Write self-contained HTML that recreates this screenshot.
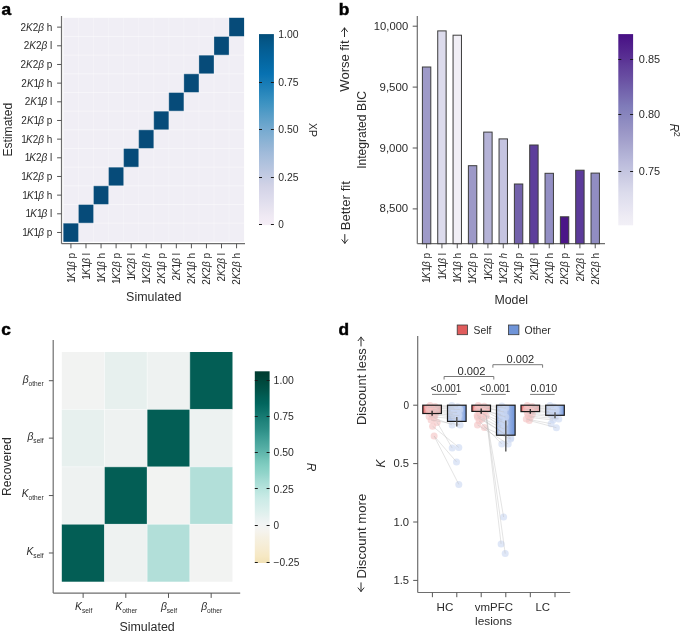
<!DOCTYPE html>
<html><head><meta charset="utf-8"><style>html,body{margin:0;padding:0;background:#fff;overflow:hidden;} svg{display:block;will-change:transform;} text{font-family:"Liberation Sans", sans-serif;}</style></head>
<body><svg width="685" height="634" viewBox="0 0 685 634" font-family='"Liberation Sans", sans-serif'><defs><linearGradient id="gPuBu" x1="0" y1="1" x2="0" y2="0"><stop offset="0.0000" stop-color="#f5eef6"/><stop offset="0.0417" stop-color="#f0eaf4"/><stop offset="0.0833" stop-color="#e8e4f0"/><stop offset="0.1250" stop-color="#e0deed"/><stop offset="0.1667" stop-color="#d9d8ea"/><stop offset="0.2083" stop-color="#d1d2e6"/><stop offset="0.2500" stop-color="#c5cce3"/><stop offset="0.2917" stop-color="#b9c6e0"/><stop offset="0.3333" stop-color="#adc1dd"/><stop offset="0.3750" stop-color="#a1bbda"/><stop offset="0.4167" stop-color="#93b5d6"/><stop offset="0.4583" stop-color="#84b0d3"/><stop offset="0.5000" stop-color="#76aad0"/><stop offset="0.5417" stop-color="#65a3cb"/><stop offset="0.5833" stop-color="#549cc7"/><stop offset="0.6250" stop-color="#4295c3"/><stop offset="0.6667" stop-color="#328dbf"/><stop offset="0.7083" stop-color="#2383ba"/><stop offset="0.7500" stop-color="#157ab5"/><stop offset="0.7917" stop-color="#0771b1"/><stop offset="0.8333" stop-color="#056ba7"/><stop offset="0.8750" stop-color="#04649e"/><stop offset="0.9167" stop-color="#045e94"/><stop offset="0.9583" stop-color="#045788"/><stop offset="1.0000" stop-color="#034d79"/></linearGradient><linearGradient id="gPur" x1="0" y1="1" x2="0" y2="0"><stop offset="0.0000" stop-color="#f2f0f7"/><stop offset="0.0417" stop-color="#eeecf4"/><stop offset="0.0833" stop-color="#e8e6f2"/><stop offset="0.1250" stop-color="#e2e1ef"/><stop offset="0.1667" stop-color="#dcdcec"/><stop offset="0.2083" stop-color="#d4d4e8"/><stop offset="0.2500" stop-color="#cbcbe3"/><stop offset="0.2917" stop-color="#c2c3df"/><stop offset="0.3333" stop-color="#babadb"/><stop offset="0.3750" stop-color="#b1b1d5"/><stop offset="0.4167" stop-color="#a9a7cf"/><stop offset="0.4583" stop-color="#a09dca"/><stop offset="0.5000" stop-color="#9894c5"/><stop offset="0.5417" stop-color="#8f8cc1"/><stop offset="0.5833" stop-color="#8784bd"/><stop offset="0.6250" stop-color="#7f7bb9"/><stop offset="0.6667" stop-color="#796eb2"/><stop offset="0.7083" stop-color="#7262ac"/><stop offset="0.7500" stop-color="#6c55a5"/><stop offset="0.7917" stop-color="#66499f"/><stop offset="0.8333" stop-color="#603e9a"/><stop offset="0.8750" stop-color="#593093"/><stop offset="0.9167" stop-color="#53258e"/><stop offset="0.9583" stop-color="#4d1a89"/><stop offset="1.0000" stop-color="#470f84"/></linearGradient><linearGradient id="gBr" x1="0" y1="1" x2="0" y2="0"><stop offset="0.0000" stop-color="#f1e1b5"/><stop offset="0.0333" stop-color="#f6e8c3"/><stop offset="0.0667" stop-color="#f6ebcf"/><stop offset="0.1000" stop-color="#f6eed9"/><stop offset="0.1333" stop-color="#f5f0e2"/><stop offset="0.1667" stop-color="#f5f3ee"/><stop offset="0.2000" stop-color="#f2f4f4"/><stop offset="0.2333" stop-color="#e9f2f1"/><stop offset="0.2667" stop-color="#def0ed"/><stop offset="0.3000" stop-color="#d5edea"/><stop offset="0.3333" stop-color="#ccebe7"/><stop offset="0.3667" stop-color="#bfe7e1"/><stop offset="0.4000" stop-color="#b1e1da"/><stop offset="0.4333" stop-color="#a3dbd3"/><stop offset="0.4667" stop-color="#92d4ca"/><stop offset="0.5000" stop-color="#84cfc3"/><stop offset="0.5333" stop-color="#76c6ba"/><stop offset="0.5667" stop-color="#64b9ae"/><stop offset="0.6000" stop-color="#55aea5"/><stop offset="0.6333" stop-color="#47a49b"/><stop offset="0.6667" stop-color="#389991"/><stop offset="0.7000" stop-color="#2b8d85"/><stop offset="0.7333" stop-color="#21847c"/><stop offset="0.7667" stop-color="#167a72"/><stop offset="0.8000" stop-color="#0a6f67"/><stop offset="0.8333" stop-color="#01655d"/><stop offset="0.8667" stop-color="#015d54"/><stop offset="0.9000" stop-color="#015349"/><stop offset="0.9333" stop-color="#004b40"/><stop offset="0.9667" stop-color="#004337"/><stop offset="1.0000" stop-color="#003c30"/></linearGradient><linearGradient id="gS" x1="0" y1="0" x2="1" y2="0"><stop offset="0" stop-color="#e04f4f"/><stop offset="0.1" stop-color="#e98f8f"/><stop offset="0.25" stop-color="#eda3a3"/><stop offset="1" stop-color="#eda4a4"/></linearGradient><linearGradient id="gO" x1="0" y1="0" x2="1" y2="0"><stop offset="0" stop-color="#b6c8ec"/><stop offset="0.7" stop-color="#b9cbed"/><stop offset="0.88" stop-color="#93afe3"/><stop offset="1" stop-color="#6a90d8"/></linearGradient><linearGradient id="gO2" x1="0" y1="0" x2="1" y2="0"><stop offset="0" stop-color="#8fabe2"/><stop offset="0.15" stop-color="#b3c6eb"/><stop offset="0.55" stop-color="#b5c7ec"/><stop offset="0.75" stop-color="#8eabe2"/><stop offset="1" stop-color="#6d93d8"/></linearGradient></defs><rect width="685" height="634" fill="#fff"/><text x="1.60" y="14.70" font-size="17.3" fill="#000" font-weight="bold" stroke="#000" stroke-width="0.5">a</text>
<rect x="63.40" y="17.80" width="180.70" height="224.00" fill="#f0eef5"/>
<rect x="229.04" y="17.80" width="15.06" height="18.67" fill="#064b79"/>
<rect x="213.98" y="36.47" width="15.06" height="18.67" fill="#064b79"/>
<rect x="198.92" y="55.13" width="15.06" height="18.67" fill="#064b79"/>
<rect x="183.87" y="73.80" width="15.06" height="18.67" fill="#064b79"/>
<rect x="168.81" y="92.47" width="15.06" height="18.67" fill="#064b79"/>
<rect x="153.75" y="111.13" width="15.06" height="18.67" fill="#064b79"/>
<rect x="138.69" y="129.80" width="15.06" height="18.67" fill="#064b79"/>
<rect x="123.63" y="148.47" width="15.06" height="18.67" fill="#064b79"/>
<rect x="108.57" y="167.13" width="15.06" height="18.67" fill="#064b79"/>
<rect x="93.52" y="185.80" width="15.06" height="18.67" fill="#064b79"/>
<rect x="78.46" y="204.47" width="15.06" height="18.67" fill="#064b79"/>
<rect x="63.40" y="223.13" width="15.06" height="18.67" fill="#064b79"/>
<line x1="63.40" y1="36.47" x2="244.10" y2="36.47" stroke="#ffffff" stroke-width="0.8" stroke-opacity="0.55"/>
<line x1="78.46" y1="17.80" x2="78.46" y2="241.80" stroke="#ffffff" stroke-width="0.6" stroke-opacity="0.45"/>
<line x1="63.40" y1="55.13" x2="244.10" y2="55.13" stroke="#ffffff" stroke-width="0.8" stroke-opacity="0.55"/>
<line x1="93.52" y1="17.80" x2="93.52" y2="241.80" stroke="#ffffff" stroke-width="0.6" stroke-opacity="0.45"/>
<line x1="63.40" y1="73.80" x2="244.10" y2="73.80" stroke="#ffffff" stroke-width="0.8" stroke-opacity="0.55"/>
<line x1="108.57" y1="17.80" x2="108.57" y2="241.80" stroke="#ffffff" stroke-width="0.6" stroke-opacity="0.45"/>
<line x1="63.40" y1="92.47" x2="244.10" y2="92.47" stroke="#ffffff" stroke-width="0.8" stroke-opacity="0.55"/>
<line x1="123.63" y1="17.80" x2="123.63" y2="241.80" stroke="#ffffff" stroke-width="0.6" stroke-opacity="0.45"/>
<line x1="63.40" y1="111.13" x2="244.10" y2="111.13" stroke="#ffffff" stroke-width="0.8" stroke-opacity="0.55"/>
<line x1="138.69" y1="17.80" x2="138.69" y2="241.80" stroke="#ffffff" stroke-width="0.6" stroke-opacity="0.45"/>
<line x1="63.40" y1="129.80" x2="244.10" y2="129.80" stroke="#ffffff" stroke-width="0.8" stroke-opacity="0.55"/>
<line x1="153.75" y1="17.80" x2="153.75" y2="241.80" stroke="#ffffff" stroke-width="0.6" stroke-opacity="0.45"/>
<line x1="63.40" y1="148.47" x2="244.10" y2="148.47" stroke="#ffffff" stroke-width="0.8" stroke-opacity="0.55"/>
<line x1="168.81" y1="17.80" x2="168.81" y2="241.80" stroke="#ffffff" stroke-width="0.6" stroke-opacity="0.45"/>
<line x1="63.40" y1="167.13" x2="244.10" y2="167.13" stroke="#ffffff" stroke-width="0.8" stroke-opacity="0.55"/>
<line x1="183.87" y1="17.80" x2="183.87" y2="241.80" stroke="#ffffff" stroke-width="0.6" stroke-opacity="0.45"/>
<line x1="63.40" y1="185.80" x2="244.10" y2="185.80" stroke="#ffffff" stroke-width="0.8" stroke-opacity="0.55"/>
<line x1="198.92" y1="17.80" x2="198.92" y2="241.80" stroke="#ffffff" stroke-width="0.6" stroke-opacity="0.45"/>
<line x1="63.40" y1="204.47" x2="244.10" y2="204.47" stroke="#ffffff" stroke-width="0.8" stroke-opacity="0.55"/>
<line x1="213.98" y1="17.80" x2="213.98" y2="241.80" stroke="#ffffff" stroke-width="0.6" stroke-opacity="0.45"/>
<line x1="63.40" y1="223.13" x2="244.10" y2="223.13" stroke="#ffffff" stroke-width="0.8" stroke-opacity="0.55"/>
<line x1="229.04" y1="17.80" x2="229.04" y2="241.80" stroke="#ffffff" stroke-width="0.6" stroke-opacity="0.45"/>
<line x1="61.50" y1="16.00" x2="61.50" y2="243.70" stroke="#6e6e6e" stroke-width="1.2"/>
<line x1="61.50" y1="243.70" x2="245.00" y2="243.70" stroke="#6e6e6e" stroke-width="1.2"/>
<line x1="57.10" y1="27.13" x2="61.50" y2="27.13" stroke="#555" stroke-width="1"/>
<text x="52.30" y="30.63" font-size="10" fill="#2b2b2b" text-anchor="end">2<tspan font-style="italic">K</tspan><tspan>2</tspan><tspan font-style="italic">β</tspan> h</text>
<line x1="57.10" y1="45.80" x2="61.50" y2="45.80" stroke="#555" stroke-width="1"/>
<text x="52.30" y="49.30" font-size="10" fill="#2b2b2b" text-anchor="end">2<tspan font-style="italic">K</tspan><tspan>2</tspan><tspan font-style="italic">β</tspan> l</text>
<line x1="57.10" y1="64.47" x2="61.50" y2="64.47" stroke="#555" stroke-width="1"/>
<text x="52.30" y="67.97" font-size="10" fill="#2b2b2b" text-anchor="end">2<tspan font-style="italic">K</tspan><tspan>2</tspan><tspan font-style="italic">β</tspan> p</text>
<line x1="57.10" y1="83.13" x2="61.50" y2="83.13" stroke="#555" stroke-width="1"/>
<text x="52.30" y="86.63" font-size="10" fill="#2b2b2b" text-anchor="end">2<tspan font-style="italic">K</tspan><tspan>1</tspan><tspan font-style="italic" dx="-0.9">β</tspan> h</text>
<line x1="57.10" y1="101.80" x2="61.50" y2="101.80" stroke="#555" stroke-width="1"/>
<text x="52.30" y="105.30" font-size="10" fill="#2b2b2b" text-anchor="end">2<tspan font-style="italic">K</tspan><tspan>1</tspan><tspan font-style="italic" dx="-0.9">β</tspan> l</text>
<line x1="57.10" y1="120.47" x2="61.50" y2="120.47" stroke="#555" stroke-width="1"/>
<text x="52.30" y="123.97" font-size="10" fill="#2b2b2b" text-anchor="end">2<tspan font-style="italic">K</tspan><tspan>1</tspan><tspan font-style="italic" dx="-0.9">β</tspan> p</text>
<line x1="57.10" y1="139.13" x2="61.50" y2="139.13" stroke="#555" stroke-width="1"/>
<text x="52.30" y="142.63" font-size="10" fill="#2b2b2b" text-anchor="end">1<tspan font-style="italic" dx="-0.9">K</tspan><tspan>2</tspan><tspan font-style="italic">β</tspan> h</text>
<line x1="57.10" y1="157.80" x2="61.50" y2="157.80" stroke="#555" stroke-width="1"/>
<text x="52.30" y="161.30" font-size="10" fill="#2b2b2b" text-anchor="end">1<tspan font-style="italic" dx="-0.9">K</tspan><tspan>2</tspan><tspan font-style="italic">β</tspan> l</text>
<line x1="57.10" y1="176.47" x2="61.50" y2="176.47" stroke="#555" stroke-width="1"/>
<text x="52.30" y="179.97" font-size="10" fill="#2b2b2b" text-anchor="end">1<tspan font-style="italic" dx="-0.9">K</tspan><tspan>2</tspan><tspan font-style="italic">β</tspan> p</text>
<line x1="57.10" y1="195.13" x2="61.50" y2="195.13" stroke="#555" stroke-width="1"/>
<text x="52.30" y="198.63" font-size="10" fill="#2b2b2b" text-anchor="end">1<tspan font-style="italic" dx="-0.9">K</tspan><tspan>1</tspan><tspan font-style="italic" dx="-0.9">β</tspan> h</text>
<line x1="57.10" y1="213.80" x2="61.50" y2="213.80" stroke="#555" stroke-width="1"/>
<text x="52.30" y="217.30" font-size="10" fill="#2b2b2b" text-anchor="end">1<tspan font-style="italic" dx="-0.9">K</tspan><tspan>1</tspan><tspan font-style="italic" dx="-0.9">β</tspan> l</text>
<line x1="57.10" y1="232.47" x2="61.50" y2="232.47" stroke="#555" stroke-width="1"/>
<text x="52.30" y="235.97" font-size="10" fill="#2b2b2b" text-anchor="end">1<tspan font-style="italic" dx="-0.9">K</tspan><tspan>1</tspan><tspan font-style="italic" dx="-0.9">β</tspan> p</text>
<line x1="70.93" y1="243.70" x2="70.93" y2="248.30" stroke="#555" stroke-width="1"/>
<text transform="translate(74.53,253.00) rotate(-90)" font-size="10" fill="#2b2b2b" text-anchor="end">1<tspan font-style="italic" dx="-0.9">K</tspan><tspan>1</tspan><tspan font-style="italic" dx="-0.9">β</tspan> p</text>
<line x1="85.99" y1="243.70" x2="85.99" y2="248.30" stroke="#555" stroke-width="1"/>
<text transform="translate(89.59,253.00) rotate(-90)" font-size="10" fill="#2b2b2b" text-anchor="end">1<tspan font-style="italic" dx="-0.9">K</tspan><tspan>1</tspan><tspan font-style="italic" dx="-0.9">β</tspan> l</text>
<line x1="101.05" y1="243.70" x2="101.05" y2="248.30" stroke="#555" stroke-width="1"/>
<text transform="translate(104.65,253.00) rotate(-90)" font-size="10" fill="#2b2b2b" text-anchor="end">1<tspan font-style="italic" dx="-0.9">K</tspan><tspan>1</tspan><tspan font-style="italic" dx="-0.9">β</tspan> h</text>
<line x1="116.10" y1="243.70" x2="116.10" y2="248.30" stroke="#555" stroke-width="1"/>
<text transform="translate(119.70,253.00) rotate(-90)" font-size="10" fill="#2b2b2b" text-anchor="end">1<tspan font-style="italic" dx="-0.9">K</tspan><tspan>2</tspan><tspan font-style="italic">β</tspan> p</text>
<line x1="131.16" y1="243.70" x2="131.16" y2="248.30" stroke="#555" stroke-width="1"/>
<text transform="translate(134.76,253.00) rotate(-90)" font-size="10" fill="#2b2b2b" text-anchor="end">1<tspan font-style="italic" dx="-0.9">K</tspan><tspan>2</tspan><tspan font-style="italic">β</tspan> l</text>
<line x1="146.22" y1="243.70" x2="146.22" y2="248.30" stroke="#555" stroke-width="1"/>
<text transform="translate(149.82,253.00) rotate(-90)" font-size="10" fill="#2b2b2b" text-anchor="end">1<tspan font-style="italic" dx="-0.9">K</tspan><tspan>2</tspan><tspan font-style="italic">β</tspan> <tspan font-style="italic">h</tspan></text>
<line x1="161.28" y1="243.70" x2="161.28" y2="248.30" stroke="#555" stroke-width="1"/>
<text transform="translate(164.88,253.00) rotate(-90)" font-size="10" fill="#2b2b2b" text-anchor="end">2<tspan font-style="italic">K</tspan><tspan>1</tspan><tspan font-style="italic" dx="-0.9">β</tspan> p</text>
<line x1="176.34" y1="243.70" x2="176.34" y2="248.30" stroke="#555" stroke-width="1"/>
<text transform="translate(179.94,253.00) rotate(-90)" font-size="10" fill="#2b2b2b" text-anchor="end">2<tspan font-style="italic">K</tspan><tspan>1</tspan><tspan font-style="italic" dx="-0.9">β</tspan> l</text>
<line x1="191.40" y1="243.70" x2="191.40" y2="248.30" stroke="#555" stroke-width="1"/>
<text transform="translate(195.00,253.00) rotate(-90)" font-size="10" fill="#2b2b2b" text-anchor="end">2<tspan font-style="italic">K</tspan><tspan>1</tspan><tspan font-style="italic" dx="-0.9">β</tspan> h</text>
<line x1="206.45" y1="243.70" x2="206.45" y2="248.30" stroke="#555" stroke-width="1"/>
<text transform="translate(210.05,253.00) rotate(-90)" font-size="10" fill="#2b2b2b" text-anchor="end">2<tspan font-style="italic">K</tspan><tspan>2</tspan><tspan font-style="italic">β</tspan> p</text>
<line x1="221.51" y1="243.70" x2="221.51" y2="248.30" stroke="#555" stroke-width="1"/>
<text transform="translate(225.11,253.00) rotate(-90)" font-size="10" fill="#2b2b2b" text-anchor="end">2<tspan font-style="italic">K</tspan><tspan>2</tspan><tspan font-style="italic">β</tspan> l</text>
<line x1="236.57" y1="243.70" x2="236.57" y2="248.30" stroke="#555" stroke-width="1"/>
<text transform="translate(240.17,253.00) rotate(-90)" font-size="10" fill="#2b2b2b" text-anchor="end">2<tspan font-style="italic">K</tspan><tspan>2</tspan><tspan font-style="italic">β</tspan> h</text>
<text x="153.80" y="301.20" font-size="12" fill="#2b2b2b" text-anchor="middle" textLength="55.40" lengthAdjust="spacingAndGlyphs">Simulated</text>
<text transform="translate(12.00,129.70) rotate(-90)" font-size="12" fill="#2b2b2b" text-anchor="middle" textLength="53.60" lengthAdjust="spacingAndGlyphs">Estimated</text>
<rect x="259.00" y="34.10" width="14.90" height="191.00" fill="url(#gPuBu)"/>
<text x="278.20" y="38.20" font-size="10" fill="#2b2b2b" textLength="20.30" lengthAdjust="spacingAndGlyphs">1.00</text>
<line x1="259.00" y1="82.50" x2="262.00" y2="82.50" stroke="#1a1a1a" stroke-width="1"/>
<line x1="270.90" y1="82.50" x2="273.90" y2="82.50" stroke="#1a1a1a" stroke-width="1"/>
<text x="278.20" y="85.70" font-size="10" fill="#2b2b2b" textLength="20.30" lengthAdjust="spacingAndGlyphs">0.75</text>
<line x1="259.00" y1="129.50" x2="262.00" y2="129.50" stroke="#1a1a1a" stroke-width="1"/>
<line x1="270.90" y1="129.50" x2="273.90" y2="129.50" stroke="#1a1a1a" stroke-width="1"/>
<text x="278.20" y="133.20" font-size="10" fill="#2b2b2b" textLength="20.30" lengthAdjust="spacingAndGlyphs">0.50</text>
<line x1="259.00" y1="177.50" x2="262.00" y2="177.50" stroke="#1a1a1a" stroke-width="1"/>
<line x1="270.90" y1="177.50" x2="273.90" y2="177.50" stroke="#1a1a1a" stroke-width="1"/>
<text x="278.20" y="180.70" font-size="10" fill="#2b2b2b" textLength="20.30" lengthAdjust="spacingAndGlyphs">0.25</text>
<line x1="259.00" y1="224.50" x2="262.00" y2="224.50" stroke="#1a1a1a" stroke-width="1"/>
<line x1="270.90" y1="224.50" x2="273.90" y2="224.50" stroke="#1a1a1a" stroke-width="1"/>
<text x="278.20" y="228.20" font-size="10" fill="#2b2b2b">0</text>
<text transform="translate(309.00,130.00) rotate(90)" font-size="11" fill="#2b2b2b" text-anchor="middle" textLength="14.00" lengthAdjust="spacingAndGlyphs">XP</text>
<text x="338.80" y="14.70" font-size="17.3" fill="#000" font-weight="bold" stroke="#000" stroke-width="0.5">b</text>
<line x1="417.30" y1="16.00" x2="417.30" y2="243.70" stroke="#6e6e6e" stroke-width="1.2"/>
<line x1="417.30" y1="243.70" x2="605.00" y2="243.70" stroke="#6e6e6e" stroke-width="1.2"/>
<line x1="412.70" y1="26.20" x2="417.30" y2="26.20" stroke="#555" stroke-width="1"/>
<text x="408.20" y="29.70" font-size="10" fill="#2b2b2b" text-anchor="end" textLength="34.40" lengthAdjust="spacingAndGlyphs">10,000</text>
<line x1="412.70" y1="87.10" x2="417.30" y2="87.10" stroke="#555" stroke-width="1"/>
<text x="408.20" y="90.60" font-size="10" fill="#2b2b2b" text-anchor="end" textLength="28.60" lengthAdjust="spacingAndGlyphs">9,500</text>
<line x1="412.70" y1="148.00" x2="417.30" y2="148.00" stroke="#555" stroke-width="1"/>
<text x="408.20" y="151.50" font-size="10" fill="#2b2b2b" text-anchor="end" textLength="28.60" lengthAdjust="spacingAndGlyphs">9,000</text>
<line x1="412.70" y1="208.90" x2="417.30" y2="208.90" stroke="#555" stroke-width="1"/>
<text x="408.20" y="212.40" font-size="10" fill="#2b2b2b" text-anchor="end" textLength="28.60" lengthAdjust="spacingAndGlyphs">8,500</text>
<rect x="422.40" y="67.00" width="8.4" height="176.70" fill="#9e9ac8" stroke="#3c3c3c" stroke-width="1"/>
<line x1="426.60" y1="243.70" x2="426.60" y2="248.30" stroke="#555" stroke-width="1"/>
<text transform="translate(430.20,253.00) rotate(-90)" font-size="10" fill="#2b2b2b" text-anchor="end">1<tspan font-style="italic" dx="-0.9">K</tspan><tspan>1</tspan><tspan font-style="italic" dx="-0.9">β</tspan> p</text>
<rect x="437.73" y="30.90" width="8.4" height="212.80" fill="#dcdbec" stroke="#3c3c3c" stroke-width="1"/>
<line x1="441.93" y1="243.70" x2="441.93" y2="248.30" stroke="#555" stroke-width="1"/>
<text transform="translate(445.53,253.00) rotate(-90)" font-size="10" fill="#2b2b2b" text-anchor="end">1<tspan font-style="italic" dx="-0.9">K</tspan><tspan>1</tspan><tspan font-style="italic" dx="-0.9">β</tspan> l</text>
<rect x="453.06" y="35.20" width="8.4" height="208.50" fill="#f1eff6" stroke="#3c3c3c" stroke-width="1"/>
<line x1="457.26" y1="243.70" x2="457.26" y2="248.30" stroke="#555" stroke-width="1"/>
<text transform="translate(460.86,253.00) rotate(-90)" font-size="10" fill="#2b2b2b" text-anchor="end">1<tspan font-style="italic" dx="-0.9">K</tspan><tspan>1</tspan><tspan font-style="italic" dx="-0.9">β</tspan> h</text>
<rect x="468.39" y="165.70" width="8.4" height="78.00" fill="#9c98c7" stroke="#3c3c3c" stroke-width="1"/>
<line x1="472.59" y1="243.70" x2="472.59" y2="248.30" stroke="#555" stroke-width="1"/>
<text transform="translate(476.19,253.00) rotate(-90)" font-size="10" fill="#2b2b2b" text-anchor="end">1<tspan font-style="italic" dx="-0.9">K</tspan><tspan>2</tspan><tspan font-style="italic">β</tspan> p</text>
<rect x="483.72" y="132.10" width="8.4" height="111.60" fill="#b5b3d7" stroke="#3c3c3c" stroke-width="1"/>
<line x1="487.92" y1="243.70" x2="487.92" y2="248.30" stroke="#555" stroke-width="1"/>
<text transform="translate(491.52,253.00) rotate(-90)" font-size="10" fill="#2b2b2b" text-anchor="end">1<tspan font-style="italic" dx="-0.9">K</tspan><tspan>2</tspan><tspan font-style="italic">β</tspan> l</text>
<rect x="499.05" y="138.90" width="8.4" height="104.80" fill="#c5c4e0" stroke="#3c3c3c" stroke-width="1"/>
<line x1="503.25" y1="243.70" x2="503.25" y2="248.30" stroke="#555" stroke-width="1"/>
<text transform="translate(506.85,253.00) rotate(-90)" font-size="10" fill="#2b2b2b" text-anchor="end">1<tspan font-style="italic" dx="-0.9">K</tspan><tspan>2</tspan><tspan font-style="italic">β</tspan> <tspan font-style="italic">h</tspan></text>
<rect x="514.38" y="184.00" width="8.4" height="59.70" fill="#7362ab" stroke="#3c3c3c" stroke-width="1"/>
<line x1="518.58" y1="243.70" x2="518.58" y2="248.30" stroke="#555" stroke-width="1"/>
<text transform="translate(522.18,253.00) rotate(-90)" font-size="10" fill="#2b2b2b" text-anchor="end">2<tspan font-style="italic">K</tspan><tspan>1</tspan><tspan font-style="italic" dx="-0.9">β</tspan> p</text>
<rect x="529.71" y="145.00" width="8.4" height="98.70" fill="#5d3e9b" stroke="#3c3c3c" stroke-width="1"/>
<line x1="533.91" y1="243.70" x2="533.91" y2="248.30" stroke="#555" stroke-width="1"/>
<text transform="translate(537.51,253.00) rotate(-90)" font-size="10" fill="#2b2b2b" text-anchor="end">2<tspan font-style="italic">K</tspan><tspan>1</tspan><tspan font-style="italic" dx="-0.9">β</tspan> l</text>
<rect x="545.04" y="173.30" width="8.4" height="70.40" fill="#938fc4" stroke="#3c3c3c" stroke-width="1"/>
<line x1="549.24" y1="243.70" x2="549.24" y2="248.30" stroke="#555" stroke-width="1"/>
<text transform="translate(552.84,253.00) rotate(-90)" font-size="10" fill="#2b2b2b" text-anchor="end">2<tspan font-style="italic">K</tspan><tspan>1</tspan><tspan font-style="italic" dx="-0.9">β</tspan> h</text>
<rect x="560.37" y="216.80" width="8.4" height="26.90" fill="#4b1688" stroke="#3c3c3c" stroke-width="1"/>
<line x1="564.57" y1="243.70" x2="564.57" y2="248.30" stroke="#555" stroke-width="1"/>
<text transform="translate(568.17,253.00) rotate(-90)" font-size="10" fill="#2b2b2b" text-anchor="end">2<tspan font-style="italic">K</tspan><tspan>2</tspan><tspan font-style="italic">β</tspan> p</text>
<rect x="575.70" y="170.20" width="8.4" height="73.50" fill="#5c3b9a" stroke="#3c3c3c" stroke-width="1"/>
<line x1="579.90" y1="243.70" x2="579.90" y2="248.30" stroke="#555" stroke-width="1"/>
<text transform="translate(583.50,253.00) rotate(-90)" font-size="10" fill="#2b2b2b" text-anchor="end">2<tspan font-style="italic">K</tspan><tspan>2</tspan><tspan font-style="italic">β</tspan> l</text>
<rect x="591.03" y="173.10" width="8.4" height="70.60" fill="#918dc2" stroke="#3c3c3c" stroke-width="1"/>
<line x1="595.23" y1="243.70" x2="595.23" y2="248.30" stroke="#555" stroke-width="1"/>
<text transform="translate(598.83,253.00) rotate(-90)" font-size="10" fill="#2b2b2b" text-anchor="end">2<tspan font-style="italic">K</tspan><tspan>2</tspan><tspan font-style="italic">β</tspan> h</text>
<text x="511.20" y="303.50" font-size="12" fill="#2b2b2b" text-anchor="middle" textLength="33.60" lengthAdjust="spacingAndGlyphs">Model</text>
<text transform="translate(366.00,129.90) rotate(-90)" font-size="12" fill="#2b2b2b" text-anchor="middle" textLength="77.80" lengthAdjust="spacingAndGlyphs">Integrated BIC</text>
<text transform="translate(349.40,66.10) rotate(-90)" font-size="12" fill="#2b2b2b" text-anchor="middle" textLength="51.20" lengthAdjust="spacingAndGlyphs">Worse fit</text>
<path d="M344.50,36.60 L344.50,27.90 M341.60,31.50 L344.50,27.90 L347.40,31.50" fill="none" stroke="#2b2b2b" stroke-width="1.0" stroke-linecap="round" stroke-linejoin="round"/>
<text transform="translate(349.60,205.70) rotate(-90)" font-size="12" fill="#2b2b2b" text-anchor="middle" textLength="49.20" lengthAdjust="spacingAndGlyphs">Better fit</text>
<path d="M344.80,234.50 L344.80,243.30 M341.90,239.70 L344.80,243.30 L347.70,239.70" fill="none" stroke="#2b2b2b" stroke-width="1.0" stroke-linecap="round" stroke-linejoin="round"/>
<rect x="618.30" y="34.10" width="14.80" height="191.20" fill="url(#gPur)"/>
<line x1="618.30" y1="59.50" x2="621.30" y2="59.50" stroke="#1a1a1a" stroke-width="1"/>
<line x1="630.10" y1="59.50" x2="633.10" y2="59.50" stroke="#1a1a1a" stroke-width="1"/>
<text x="638.80" y="62.80" font-size="10" fill="#2b2b2b" textLength="21.30" lengthAdjust="spacingAndGlyphs">0.85</text>
<line x1="618.30" y1="114.50" x2="621.30" y2="114.50" stroke="#1a1a1a" stroke-width="1"/>
<line x1="630.10" y1="114.50" x2="633.10" y2="114.50" stroke="#1a1a1a" stroke-width="1"/>
<text x="638.80" y="118.20" font-size="10" fill="#2b2b2b" textLength="21.30" lengthAdjust="spacingAndGlyphs">0.80</text>
<line x1="618.30" y1="171.50" x2="621.30" y2="171.50" stroke="#1a1a1a" stroke-width="1"/>
<line x1="630.10" y1="171.50" x2="633.10" y2="171.50" stroke="#1a1a1a" stroke-width="1"/>
<text x="638.80" y="174.80" font-size="10" fill="#2b2b2b" textLength="21.30" lengthAdjust="spacingAndGlyphs">0.75</text>
<text transform="translate(669.6,123.6) rotate(90)" font-size="12" fill="#2b2b2b"><tspan font-style="italic">R</tspan><tspan font-size="9" dx="-0.6" dy="-4.6">2</tspan></text>
<text x="1.20" y="334.80" font-size="17.3" fill="#000" font-weight="bold" stroke="#000" stroke-width="0.5">c</text>
<rect x="61.80" y="352.00" width="42.67" height="57.43" fill="#f2f3f2"/>
<rect x="104.47" y="352.00" width="42.67" height="57.43" fill="#e7f0ee"/>
<rect x="147.15" y="352.00" width="42.67" height="57.43" fill="#eef2f1"/>
<rect x="189.82" y="352.00" width="42.67" height="57.43" fill="#035e55"/>
<rect x="61.80" y="409.43" width="42.67" height="57.43" fill="#e7f0ee"/>
<rect x="104.47" y="409.43" width="42.67" height="57.43" fill="#eef2f1"/>
<rect x="147.15" y="409.43" width="42.67" height="57.43" fill="#035e55"/>
<rect x="189.82" y="409.43" width="42.67" height="57.43" fill="#edf2f1"/>
<rect x="61.80" y="466.85" width="42.67" height="57.43" fill="#eef2f1"/>
<rect x="104.47" y="466.85" width="42.67" height="57.43" fill="#035e55"/>
<rect x="147.15" y="466.85" width="42.67" height="57.43" fill="#f2f3f2"/>
<rect x="189.82" y="466.85" width="42.67" height="57.43" fill="#b2dfd9"/>
<rect x="61.80" y="524.28" width="42.67" height="57.43" fill="#035e55"/>
<rect x="104.47" y="524.28" width="42.67" height="57.43" fill="#eef2f1"/>
<rect x="147.15" y="524.28" width="42.67" height="57.43" fill="#b2dfd9"/>
<rect x="189.82" y="524.28" width="42.67" height="57.43" fill="#f2f3f2"/>
<line x1="61.80" y1="409.43" x2="232.50" y2="409.43" stroke="#fff" stroke-width="0.8" stroke-opacity="0.5"/>
<line x1="104.47" y1="352.00" x2="104.47" y2="581.70" stroke="#fff" stroke-width="0.8" stroke-opacity="0.5"/>
<line x1="61.80" y1="466.85" x2="232.50" y2="466.85" stroke="#fff" stroke-width="0.8" stroke-opacity="0.5"/>
<line x1="147.15" y1="352.00" x2="147.15" y2="581.70" stroke="#fff" stroke-width="0.8" stroke-opacity="0.5"/>
<line x1="61.80" y1="524.28" x2="232.50" y2="524.28" stroke="#fff" stroke-width="0.8" stroke-opacity="0.5"/>
<line x1="189.82" y1="352.00" x2="189.82" y2="581.70" stroke="#fff" stroke-width="0.8" stroke-opacity="0.5"/>
<line x1="53.20" y1="340.00" x2="53.20" y2="593.10" stroke="#6e6e6e" stroke-width="1.2"/>
<line x1="53.20" y1="593.10" x2="240.20" y2="593.10" stroke="#6e6e6e" stroke-width="1.2"/>
<line x1="48.90" y1="380.71" x2="53.20" y2="380.71" stroke="#555" stroke-width="1"/>
<text x="43.60" y="382.51" font-size="10.4" fill="#2b2b2b" text-anchor="end"><tspan font-style="italic">β</tspan><tspan font-size="6.6" dy="3.0">other</tspan></text>
<line x1="48.90" y1="438.14" x2="53.20" y2="438.14" stroke="#555" stroke-width="1"/>
<text x="43.60" y="439.94" font-size="10.4" fill="#2b2b2b" text-anchor="end"><tspan font-style="italic">β</tspan><tspan font-size="6.6" dy="3.0">self</tspan></text>
<line x1="48.90" y1="495.56" x2="53.20" y2="495.56" stroke="#555" stroke-width="1"/>
<text x="43.60" y="497.36" font-size="10.4" fill="#2b2b2b" text-anchor="end"><tspan font-style="italic">K</tspan><tspan font-size="6.6" dy="3.0">other</tspan></text>
<line x1="48.90" y1="552.99" x2="53.20" y2="552.99" stroke="#555" stroke-width="1"/>
<text x="43.60" y="554.79" font-size="10.4" fill="#2b2b2b" text-anchor="end"><tspan font-style="italic">K</tspan><tspan font-size="6.6" dy="3.0">self</tspan></text>
<line x1="83.14" y1="593.10" x2="83.14" y2="597.90" stroke="#555" stroke-width="1"/>
<text x="83.64" y="610.00" font-size="10.4" fill="#2b2b2b" text-anchor="middle"><tspan font-style="italic">K</tspan><tspan font-size="6.6" dy="3.0">self</tspan></text>
<line x1="125.81" y1="593.10" x2="125.81" y2="597.90" stroke="#555" stroke-width="1"/>
<text x="126.31" y="610.00" font-size="10.4" fill="#2b2b2b" text-anchor="middle"><tspan font-style="italic">K</tspan><tspan font-size="6.6" dy="3.0">other</tspan></text>
<line x1="168.49" y1="593.10" x2="168.49" y2="597.90" stroke="#555" stroke-width="1"/>
<text x="168.99" y="610.00" font-size="10.4" fill="#2b2b2b" text-anchor="middle"><tspan font-style="italic">β</tspan><tspan font-size="6.6" dy="3.0">self</tspan></text>
<line x1="211.16" y1="593.10" x2="211.16" y2="597.90" stroke="#555" stroke-width="1"/>
<text x="211.66" y="610.00" font-size="10.4" fill="#2b2b2b" text-anchor="middle"><tspan font-style="italic">β</tspan><tspan font-size="6.6" dy="3.0">other</tspan></text>
<text x="147.10" y="631.00" font-size="12" fill="#2b2b2b" text-anchor="middle" textLength="55.20" lengthAdjust="spacingAndGlyphs">Simulated</text>
<text transform="translate(11.30,466.60) rotate(-90)" font-size="12" fill="#2b2b2b" text-anchor="middle" textLength="58.60" lengthAdjust="spacingAndGlyphs">Recovered</text>
<rect x="254.80" y="371.30" width="14.80" height="191.70" fill="url(#gBr)"/>
<line x1="254.80" y1="380.50" x2="257.80" y2="380.50" stroke="#1a1a1a" stroke-width="1"/>
<line x1="266.60" y1="380.50" x2="269.60" y2="380.50" stroke="#1a1a1a" stroke-width="1"/>
<text x="273.60" y="384.00" font-size="10" fill="#2b2b2b" textLength="20.30" lengthAdjust="spacingAndGlyphs">1.00</text>
<line x1="254.80" y1="416.50" x2="257.80" y2="416.50" stroke="#1a1a1a" stroke-width="1"/>
<line x1="266.60" y1="416.50" x2="269.60" y2="416.50" stroke="#1a1a1a" stroke-width="1"/>
<text x="273.60" y="419.60" font-size="10" fill="#2b2b2b" textLength="20.30" lengthAdjust="spacingAndGlyphs">0.75</text>
<line x1="254.80" y1="452.50" x2="257.80" y2="452.50" stroke="#1a1a1a" stroke-width="1"/>
<line x1="266.60" y1="452.50" x2="269.60" y2="452.50" stroke="#1a1a1a" stroke-width="1"/>
<text x="273.60" y="456.30" font-size="10" fill="#2b2b2b" textLength="20.30" lengthAdjust="spacingAndGlyphs">0.50</text>
<line x1="254.80" y1="488.50" x2="257.80" y2="488.50" stroke="#1a1a1a" stroke-width="1"/>
<line x1="266.60" y1="488.50" x2="269.60" y2="488.50" stroke="#1a1a1a" stroke-width="1"/>
<text x="273.60" y="492.60" font-size="10" fill="#2b2b2b" textLength="20.30" lengthAdjust="spacingAndGlyphs">0.25</text>
<line x1="254.80" y1="525.50" x2="257.80" y2="525.50" stroke="#1a1a1a" stroke-width="1"/>
<line x1="266.60" y1="525.50" x2="269.60" y2="525.50" stroke="#1a1a1a" stroke-width="1"/>
<text x="273.60" y="529.10" font-size="10" fill="#2b2b2b">0</text>
<line x1="254.80" y1="562.50" x2="257.80" y2="562.50" stroke="#1a1a1a" stroke-width="1"/>
<line x1="266.60" y1="562.50" x2="269.60" y2="562.50" stroke="#1a1a1a" stroke-width="1"/>
<text x="273.60" y="565.60" font-size="10" fill="#2b2b2b" textLength="25.80" lengthAdjust="spacingAndGlyphs">−0.25</text>
<text transform="translate(307.40,467.00) rotate(90)" font-size="12" fill="#2b2b2b" text-anchor="middle"><tspan font-style="italic">R</tspan></text>
<text x="338.60" y="334.70" font-size="17.3" fill="#000" font-weight="bold" stroke="#000" stroke-width="0.5">d</text>
<line x1="417.70" y1="336.00" x2="417.70" y2="592.50" stroke="#6e6e6e" stroke-width="1.2"/>
<line x1="417.70" y1="592.50" x2="570.20" y2="592.50" stroke="#6e6e6e" stroke-width="1.2"/>
<line x1="413.20" y1="405.20" x2="417.70" y2="405.20" stroke="#555" stroke-width="1"/>
<text x="409.00" y="408.80" font-size="10" fill="#2b2b2b" text-anchor="end">0</text>
<line x1="413.20" y1="463.60" x2="417.70" y2="463.60" stroke="#555" stroke-width="1"/>
<text x="409.00" y="467.20" font-size="10" fill="#2b2b2b" text-anchor="end" textLength="15.60" lengthAdjust="spacingAndGlyphs">0.5</text>
<line x1="413.20" y1="522.00" x2="417.70" y2="522.00" stroke="#555" stroke-width="1"/>
<text x="409.00" y="525.60" font-size="10" fill="#2b2b2b" text-anchor="end" textLength="15.60" lengthAdjust="spacingAndGlyphs">1.0</text>
<line x1="413.20" y1="580.40" x2="417.70" y2="580.40" stroke="#555" stroke-width="1"/>
<text x="409.00" y="584.00" font-size="10" fill="#2b2b2b" text-anchor="end" textLength="15.60" lengthAdjust="spacingAndGlyphs">1.5</text>
<line x1="432.40" y1="592.50" x2="432.40" y2="597.20" stroke="#555" stroke-width="1"/>
<line x1="456.80" y1="592.50" x2="456.80" y2="597.20" stroke="#555" stroke-width="1"/>
<line x1="481.20" y1="592.50" x2="481.20" y2="597.20" stroke="#555" stroke-width="1"/>
<line x1="505.80" y1="592.50" x2="505.80" y2="597.20" stroke="#555" stroke-width="1"/>
<line x1="530.30" y1="592.50" x2="530.30" y2="597.20" stroke="#555" stroke-width="1"/>
<line x1="555.00" y1="592.50" x2="555.00" y2="597.20" stroke="#555" stroke-width="1"/>
<text x="445.00" y="611.30" font-size="11.5" fill="#2b2b2b" text-anchor="middle" textLength="16.80" lengthAdjust="spacingAndGlyphs">HC</text>
<text x="493.90" y="611.30" font-size="11.5" fill="#2b2b2b" text-anchor="middle" textLength="38.20" lengthAdjust="spacingAndGlyphs">vmPFC</text>
<text x="493.50" y="625.40" font-size="11.5" fill="#2b2b2b" text-anchor="middle" textLength="37.00" lengthAdjust="spacingAndGlyphs">lesions</text>
<text x="542.70" y="611.30" font-size="11.5" fill="#2b2b2b" text-anchor="middle" textLength="14.60" lengthAdjust="spacingAndGlyphs">LC</text>
<text transform="translate(365.50,386.60) rotate(-90)" font-size="12" fill="#2b2b2b" text-anchor="middle" textLength="76.80" lengthAdjust="spacingAndGlyphs">Discount less</text>
<path d="M361.00,346.00 L361.00,337.10 M358.10,340.70 L361.00,337.10 L363.90,340.70" fill="none" stroke="#2b2b2b" stroke-width="1.0" stroke-linecap="round" stroke-linejoin="round"/>
<text transform="translate(365.50,536.20) rotate(-90)" font-size="12" fill="#2b2b2b" text-anchor="middle" textLength="84.80" lengthAdjust="spacingAndGlyphs">Discount more</text>
<path d="M361.00,582.80 L361.00,591.50 M358.10,587.90 L361.00,591.50 L363.90,587.90" fill="none" stroke="#2b2b2b" stroke-width="1.0" stroke-linecap="round" stroke-linejoin="round"/>
<text transform="translate(385.3,463.4) rotate(-90)" font-size="12" fill="#2b2b2b" text-anchor="middle" font-style="italic">K</text>
<rect x="457.2" y="325.0" width="10.3" height="9.7" fill="#e05c5c" stroke="#3a3a3a" stroke-width="0.8"/>
<text x="473.60" y="333.60" font-size="10.5" fill="#2b2b2b" textLength="17.80" lengthAdjust="spacingAndGlyphs">Self</text>
<rect x="508.4" y="325.0" width="10.5" height="9.7" fill="#6f94d8" stroke="#3a3a3a" stroke-width="0.8"/>
<text x="524.50" y="333.60" font-size="10.5" fill="#2b2b2b" textLength="26.20" lengthAdjust="spacingAndGlyphs">Other</text>
<rect x="422.80" y="405.2" width="18.6" height="8.30" fill="url(#gS)"/>
<rect x="447.50" y="405.2" width="18.6" height="16.20" fill="url(#gO)"/>
<rect x="471.90" y="405.2" width="18.6" height="6.20" fill="url(#gS)"/>
<rect x="496.50" y="405.2" width="18.6" height="30.00" fill="url(#gO2)"/>
<rect x="521.00" y="405.2" width="18.6" height="6.40" fill="url(#gS)"/>
<rect x="545.70" y="405.2" width="18.6" height="10.10" fill="url(#gO)"/>
<circle cx="430.10" cy="405.60" r="3.5" fill="#f3c4c4" fill-opacity="0.62"/>
<circle cx="435.10" cy="406.40" r="3.5" fill="#f3c4c4" fill-opacity="0.62"/>
<circle cx="428.10" cy="407.50" r="3.5" fill="#f3c4c4" fill-opacity="0.62"/>
<circle cx="437.10" cy="408.50" r="3.5" fill="#f3c4c4" fill-opacity="0.62"/>
<circle cx="433.10" cy="409.50" r="3.5" fill="#f3c4c4" fill-opacity="0.62"/>
<circle cx="429.10" cy="410.80" r="3.5" fill="#f3c4c4" fill-opacity="0.62"/>
<circle cx="436.10" cy="412.00" r="3.5" fill="#f3c4c4" fill-opacity="0.62"/>
<circle cx="431.10" cy="413.50" r="3.5" fill="#f3c4c4" fill-opacity="0.62"/>
<circle cx="435.10" cy="415.00" r="3.5" fill="#f3c4c4" fill-opacity="0.62"/>
<circle cx="429.10" cy="416.50" r="3.5" fill="#f3c4c4" fill-opacity="0.62"/>
<circle cx="434.10" cy="418.00" r="3.5" fill="#f3c4c4" fill-opacity="0.62"/>
<circle cx="431.10" cy="420.00" r="3.5" fill="#f3c4c4" fill-opacity="0.62"/>
<circle cx="437.10" cy="422.40" r="3.5" fill="#f3c4c4" fill-opacity="0.62"/>
<circle cx="432.60" cy="426.30" r="3.5" fill="#f3c4c4" fill-opacity="0.62"/>
<circle cx="434.10" cy="436.00" r="3.5" fill="#f3c4c4" fill-opacity="0.62"/>
<circle cx="451.80" cy="405.60" r="3.5" fill="#cbd9f2" fill-opacity="0.62"/>
<circle cx="457.80" cy="406.80" r="3.5" fill="#cbd9f2" fill-opacity="0.62"/>
<circle cx="453.80" cy="408.00" r="3.5" fill="#cbd9f2" fill-opacity="0.62"/>
<circle cx="459.80" cy="409.50" r="3.5" fill="#cbd9f2" fill-opacity="0.62"/>
<circle cx="450.80" cy="411.00" r="3.5" fill="#cbd9f2" fill-opacity="0.62"/>
<circle cx="456.80" cy="412.50" r="3.5" fill="#cbd9f2" fill-opacity="0.62"/>
<circle cx="452.80" cy="414.00" r="3.5" fill="#cbd9f2" fill-opacity="0.62"/>
<circle cx="458.80" cy="415.50" r="3.5" fill="#cbd9f2" fill-opacity="0.62"/>
<circle cx="454.80" cy="417.00" r="3.5" fill="#cbd9f2" fill-opacity="0.62"/>
<circle cx="457.80" cy="419.00" r="3.5" fill="#cbd9f2" fill-opacity="0.62"/>
<circle cx="452.10" cy="424.90" r="3.5" fill="#cbd9f2" fill-opacity="0.62"/>
<circle cx="460.10" cy="424.90" r="3.5" fill="#cbd9f2" fill-opacity="0.62"/>
<circle cx="452.20" cy="448.10" r="3.5" fill="#cbd9f2" fill-opacity="0.62"/>
<circle cx="458.80" cy="447.40" r="3.5" fill="#cbd9f2" fill-opacity="0.62"/>
<circle cx="456.50" cy="461.90" r="3.5" fill="#cbd9f2" fill-opacity="0.62"/>
<circle cx="458.80" cy="484.40" r="3.5" fill="#cbd9f2" fill-opacity="0.62"/>
<circle cx="478.20" cy="405.60" r="3.5" fill="#f3c4c4" fill-opacity="0.62"/>
<circle cx="484.20" cy="406.20" r="3.5" fill="#f3c4c4" fill-opacity="0.62"/>
<circle cx="480.20" cy="407.00" r="3.5" fill="#f3c4c4" fill-opacity="0.62"/>
<circle cx="486.20" cy="408.00" r="3.5" fill="#f3c4c4" fill-opacity="0.62"/>
<circle cx="477.20" cy="409.00" r="3.5" fill="#f3c4c4" fill-opacity="0.62"/>
<circle cx="482.20" cy="410.00" r="3.5" fill="#f3c4c4" fill-opacity="0.62"/>
<circle cx="485.20" cy="411.00" r="3.5" fill="#f3c4c4" fill-opacity="0.62"/>
<circle cx="479.20" cy="412.50" r="3.5" fill="#f3c4c4" fill-opacity="0.62"/>
<circle cx="483.20" cy="414.00" r="3.5" fill="#f3c4c4" fill-opacity="0.62"/>
<circle cx="477.20" cy="415.50" r="3.5" fill="#f3c4c4" fill-opacity="0.62"/>
<circle cx="477.50" cy="417.20" r="3.5" fill="#f3c4c4" fill-opacity="0.62"/>
<circle cx="482.20" cy="419.00" r="3.5" fill="#f3c4c4" fill-opacity="0.62"/>
<circle cx="479.20" cy="421.00" r="3.5" fill="#f3c4c4" fill-opacity="0.62"/>
<circle cx="477.50" cy="424.90" r="3.5" fill="#f3c4c4" fill-opacity="0.62"/>
<circle cx="484.40" cy="427.40" r="3.5" fill="#f3c4c4" fill-opacity="0.62"/>
<circle cx="486.20" cy="416.00" r="3.5" fill="#f3c4c4" fill-opacity="0.62"/>
<circle cx="501.80" cy="406.00" r="3.5" fill="#cbd9f2" fill-opacity="0.62"/>
<circle cx="505.80" cy="408.00" r="3.5" fill="#cbd9f2" fill-opacity="0.62"/>
<circle cx="499.80" cy="410.00" r="3.5" fill="#cbd9f2" fill-opacity="0.62"/>
<circle cx="503.80" cy="412.00" r="3.5" fill="#cbd9f2" fill-opacity="0.62"/>
<circle cx="500.80" cy="414.50" r="3.5" fill="#cbd9f2" fill-opacity="0.62"/>
<circle cx="505.80" cy="417.00" r="3.5" fill="#cbd9f2" fill-opacity="0.62"/>
<circle cx="501.80" cy="420.00" r="3.5" fill="#cbd9f2" fill-opacity="0.62"/>
<circle cx="504.80" cy="423.00" r="3.5" fill="#cbd9f2" fill-opacity="0.62"/>
<circle cx="500.80" cy="426.00" r="3.5" fill="#cbd9f2" fill-opacity="0.62"/>
<circle cx="503.80" cy="429.00" r="3.5" fill="#cbd9f2" fill-opacity="0.62"/>
<circle cx="501.80" cy="432.00" r="3.5" fill="#cbd9f2" fill-opacity="0.62"/>
<circle cx="510.80" cy="438.00" r="3.5" fill="#cbd9f2" fill-opacity="0.62"/>
<circle cx="501.80" cy="444.00" r="3.5" fill="#cbd9f2" fill-opacity="0.62"/>
<circle cx="508.20" cy="444.00" r="3.5" fill="#cbd9f2" fill-opacity="0.62"/>
<circle cx="510.60" cy="439.00" r="3.5" fill="#cbd9f2" fill-opacity="0.62"/>
<circle cx="503.60" cy="517.00" r="3.5" fill="#cbd9f2" fill-opacity="0.62"/>
<circle cx="501.10" cy="543.90" r="3.5" fill="#cbd9f2" fill-opacity="0.62"/>
<circle cx="505.20" cy="553.60" r="3.5" fill="#cbd9f2" fill-opacity="0.62"/>
<circle cx="527.30" cy="405.60" r="3.5" fill="#f3c4c4" fill-opacity="0.62"/>
<circle cx="532.30" cy="406.50" r="3.5" fill="#f3c4c4" fill-opacity="0.62"/>
<circle cx="529.30" cy="407.50" r="3.5" fill="#f3c4c4" fill-opacity="0.62"/>
<circle cx="534.30" cy="408.50" r="3.5" fill="#f3c4c4" fill-opacity="0.62"/>
<circle cx="526.30" cy="409.50" r="3.5" fill="#f3c4c4" fill-opacity="0.62"/>
<circle cx="531.30" cy="411.00" r="3.5" fill="#f3c4c4" fill-opacity="0.62"/>
<circle cx="527.30" cy="413.00" r="3.5" fill="#f3c4c4" fill-opacity="0.62"/>
<circle cx="532.30" cy="414.50" r="3.5" fill="#f3c4c4" fill-opacity="0.62"/>
<circle cx="528.30" cy="416.00" r="3.5" fill="#f3c4c4" fill-opacity="0.62"/>
<circle cx="530.30" cy="417.50" r="3.5" fill="#f3c4c4" fill-opacity="0.62"/>
<circle cx="526.30" cy="419.00" r="3.5" fill="#f3c4c4" fill-opacity="0.62"/>
<circle cx="529.30" cy="420.50" r="3.5" fill="#f3c4c4" fill-opacity="0.62"/>
<circle cx="550.00" cy="405.60" r="3.5" fill="#cbd9f2" fill-opacity="0.62"/>
<circle cx="554.00" cy="407.00" r="3.5" fill="#cbd9f2" fill-opacity="0.62"/>
<circle cx="551.00" cy="408.50" r="3.5" fill="#cbd9f2" fill-opacity="0.62"/>
<circle cx="556.00" cy="410.00" r="3.5" fill="#cbd9f2" fill-opacity="0.62"/>
<circle cx="549.00" cy="411.50" r="3.5" fill="#cbd9f2" fill-opacity="0.62"/>
<circle cx="553.00" cy="413.00" r="3.5" fill="#cbd9f2" fill-opacity="0.62"/>
<circle cx="551.00" cy="415.00" r="3.5" fill="#cbd9f2" fill-opacity="0.62"/>
<circle cx="555.00" cy="417.00" r="3.5" fill="#cbd9f2" fill-opacity="0.62"/>
<circle cx="558.80" cy="418.90" r="3.5" fill="#cbd9f2" fill-opacity="0.62"/>
<circle cx="553.00" cy="420.00" r="3.5" fill="#cbd9f2" fill-opacity="0.62"/>
<circle cx="551.10" cy="423.70" r="3.5" fill="#cbd9f2" fill-opacity="0.62"/>
<circle cx="556.40" cy="427.70" r="3.5" fill="#cbd9f2" fill-opacity="0.62"/>
<line x1="430.10" y1="405.60" x2="451.80" y2="405.60" stroke="#bcbcbc" stroke-width="0.55" stroke-opacity="0.75"/>
<line x1="435.10" y1="406.40" x2="457.80" y2="406.80" stroke="#bcbcbc" stroke-width="0.55" stroke-opacity="0.75"/>
<line x1="428.10" y1="407.50" x2="453.80" y2="408.00" stroke="#bcbcbc" stroke-width="0.55" stroke-opacity="0.75"/>
<line x1="437.10" y1="408.50" x2="459.80" y2="409.50" stroke="#bcbcbc" stroke-width="0.55" stroke-opacity="0.75"/>
<line x1="433.10" y1="409.50" x2="450.80" y2="411.00" stroke="#bcbcbc" stroke-width="0.55" stroke-opacity="0.75"/>
<line x1="429.10" y1="410.80" x2="456.80" y2="412.50" stroke="#bcbcbc" stroke-width="0.55" stroke-opacity="0.75"/>
<line x1="436.10" y1="412.00" x2="452.80" y2="414.00" stroke="#bcbcbc" stroke-width="0.55" stroke-opacity="0.75"/>
<line x1="431.10" y1="413.50" x2="458.80" y2="415.50" stroke="#bcbcbc" stroke-width="0.55" stroke-opacity="0.75"/>
<line x1="435.10" y1="415.00" x2="454.80" y2="417.00" stroke="#bcbcbc" stroke-width="0.55" stroke-opacity="0.75"/>
<line x1="429.10" y1="416.50" x2="457.80" y2="419.00" stroke="#bcbcbc" stroke-width="0.55" stroke-opacity="0.75"/>
<line x1="434.10" y1="418.00" x2="452.10" y2="424.90" stroke="#bcbcbc" stroke-width="0.55" stroke-opacity="0.75"/>
<line x1="431.10" y1="420.00" x2="460.10" y2="424.90" stroke="#bcbcbc" stroke-width="0.55" stroke-opacity="0.75"/>
<line x1="437.10" y1="422.40" x2="452.20" y2="448.10" stroke="#bcbcbc" stroke-width="0.55" stroke-opacity="0.75"/>
<line x1="432.60" y1="426.30" x2="458.80" y2="447.40" stroke="#bcbcbc" stroke-width="0.55" stroke-opacity="0.75"/>
<line x1="434.10" y1="436.00" x2="456.50" y2="461.90" stroke="#bcbcbc" stroke-width="0.55" stroke-opacity="0.75"/>
<line x1="434.10" y1="436.00" x2="458.80" y2="484.40" stroke="#bcbcbc" stroke-width="0.55" stroke-opacity="0.75"/>
<line x1="478.20" y1="405.60" x2="501.80" y2="406.00" stroke="#bcbcbc" stroke-width="0.55" stroke-opacity="0.75"/>
<line x1="484.20" y1="406.20" x2="505.80" y2="408.00" stroke="#bcbcbc" stroke-width="0.55" stroke-opacity="0.75"/>
<line x1="480.20" y1="407.00" x2="499.80" y2="410.00" stroke="#bcbcbc" stroke-width="0.55" stroke-opacity="0.75"/>
<line x1="486.20" y1="408.00" x2="503.80" y2="412.00" stroke="#bcbcbc" stroke-width="0.55" stroke-opacity="0.75"/>
<line x1="477.20" y1="409.00" x2="500.80" y2="414.50" stroke="#bcbcbc" stroke-width="0.55" stroke-opacity="0.75"/>
<line x1="482.20" y1="410.00" x2="505.80" y2="417.00" stroke="#bcbcbc" stroke-width="0.55" stroke-opacity="0.75"/>
<line x1="485.20" y1="411.00" x2="501.80" y2="420.00" stroke="#bcbcbc" stroke-width="0.55" stroke-opacity="0.75"/>
<line x1="479.20" y1="412.50" x2="504.80" y2="423.00" stroke="#bcbcbc" stroke-width="0.55" stroke-opacity="0.75"/>
<line x1="483.20" y1="414.00" x2="500.80" y2="426.00" stroke="#bcbcbc" stroke-width="0.55" stroke-opacity="0.75"/>
<line x1="477.20" y1="415.50" x2="503.80" y2="429.00" stroke="#bcbcbc" stroke-width="0.55" stroke-opacity="0.75"/>
<line x1="477.50" y1="417.20" x2="501.80" y2="432.00" stroke="#bcbcbc" stroke-width="0.55" stroke-opacity="0.75"/>
<line x1="482.20" y1="419.00" x2="510.80" y2="438.00" stroke="#bcbcbc" stroke-width="0.55" stroke-opacity="0.75"/>
<line x1="479.20" y1="421.00" x2="501.80" y2="444.00" stroke="#bcbcbc" stroke-width="0.55" stroke-opacity="0.75"/>
<line x1="477.50" y1="424.90" x2="508.20" y2="444.00" stroke="#bcbcbc" stroke-width="0.55" stroke-opacity="0.75"/>
<line x1="484.40" y1="427.40" x2="510.60" y2="439.00" stroke="#bcbcbc" stroke-width="0.55" stroke-opacity="0.75"/>
<line x1="486.20" y1="416.00" x2="503.60" y2="517.00" stroke="#bcbcbc" stroke-width="0.55" stroke-opacity="0.75"/>
<line x1="486.20" y1="416.00" x2="501.10" y2="543.90" stroke="#bcbcbc" stroke-width="0.55" stroke-opacity="0.75"/>
<line x1="486.20" y1="416.00" x2="505.20" y2="553.60" stroke="#bcbcbc" stroke-width="0.55" stroke-opacity="0.75"/>
<line x1="527.30" y1="405.60" x2="550.00" y2="405.60" stroke="#bcbcbc" stroke-width="0.55" stroke-opacity="0.75"/>
<line x1="532.30" y1="406.50" x2="554.00" y2="407.00" stroke="#bcbcbc" stroke-width="0.55" stroke-opacity="0.75"/>
<line x1="529.30" y1="407.50" x2="551.00" y2="408.50" stroke="#bcbcbc" stroke-width="0.55" stroke-opacity="0.75"/>
<line x1="534.30" y1="408.50" x2="556.00" y2="410.00" stroke="#bcbcbc" stroke-width="0.55" stroke-opacity="0.75"/>
<line x1="526.30" y1="409.50" x2="549.00" y2="411.50" stroke="#bcbcbc" stroke-width="0.55" stroke-opacity="0.75"/>
<line x1="531.30" y1="411.00" x2="553.00" y2="413.00" stroke="#bcbcbc" stroke-width="0.55" stroke-opacity="0.75"/>
<line x1="527.30" y1="413.00" x2="551.00" y2="415.00" stroke="#bcbcbc" stroke-width="0.55" stroke-opacity="0.75"/>
<line x1="532.30" y1="414.50" x2="555.00" y2="417.00" stroke="#bcbcbc" stroke-width="0.55" stroke-opacity="0.75"/>
<line x1="528.30" y1="416.00" x2="558.80" y2="418.90" stroke="#bcbcbc" stroke-width="0.55" stroke-opacity="0.75"/>
<line x1="530.30" y1="417.50" x2="553.00" y2="420.00" stroke="#bcbcbc" stroke-width="0.55" stroke-opacity="0.75"/>
<line x1="526.30" y1="419.00" x2="551.10" y2="423.70" stroke="#bcbcbc" stroke-width="0.55" stroke-opacity="0.75"/>
<line x1="529.30" y1="420.50" x2="556.40" y2="427.70" stroke="#bcbcbc" stroke-width="0.55" stroke-opacity="0.75"/>
<rect x="422.80" y="405.2" width="18.6" height="8.30" fill="none" stroke="#1a1a1a" stroke-width="1.2"/>
<rect x="447.50" y="405.2" width="18.6" height="16.20" fill="none" stroke="#1a1a1a" stroke-width="1.2"/>
<line x1="432.10" y1="410.80" x2="432.10" y2="415.80" stroke="#2a2a2a" stroke-width="1.4"/>
<line x1="456.80" y1="417.00" x2="456.80" y2="426.60" stroke="#555" stroke-width="1.4"/>
<rect x="471.90" y="405.2" width="18.6" height="6.20" fill="none" stroke="#1a1a1a" stroke-width="1.2"/>
<rect x="496.50" y="405.2" width="18.6" height="30.00" fill="none" stroke="#1a1a1a" stroke-width="1.2"/>
<line x1="481.20" y1="408.40" x2="481.20" y2="413.80" stroke="#2a2a2a" stroke-width="1.4"/>
<line x1="505.80" y1="420.50" x2="505.80" y2="451.50" stroke="#555" stroke-width="1.4"/>
<rect x="521.00" y="405.2" width="18.6" height="6.40" fill="none" stroke="#1a1a1a" stroke-width="1.2"/>
<rect x="545.70" y="405.2" width="18.6" height="10.10" fill="none" stroke="#1a1a1a" stroke-width="1.2"/>
<line x1="530.30" y1="408.90" x2="530.30" y2="413.80" stroke="#2a2a2a" stroke-width="1.4"/>
<line x1="555.00" y1="412.30" x2="555.00" y2="418.20" stroke="#555" stroke-width="1.4"/>
<text x="446.00" y="392.10" font-size="10" fill="#2b2b2b" text-anchor="middle" textLength="30.60" lengthAdjust="spacingAndGlyphs">&lt;0.001</text>
<line x1="432.00" y1="394.40" x2="456.80" y2="394.40" stroke="#7a7a7a" stroke-width="1"/>
<text x="494.90" y="392.10" font-size="10" fill="#2b2b2b" text-anchor="middle" textLength="30.60" lengthAdjust="spacingAndGlyphs">&lt;0.001</text>
<line x1="481.30" y1="394.40" x2="505.80" y2="394.40" stroke="#7a7a7a" stroke-width="1"/>
<text x="543.80" y="392.10" font-size="10" fill="#2b2b2b" text-anchor="middle" textLength="26.80" lengthAdjust="spacingAndGlyphs">0.010</text>
<line x1="530.10" y1="394.40" x2="554.70" y2="394.40" stroke="#7a7a7a" stroke-width="1"/>
<path d="M444.10,379.50 V376.50 H493.80 V379.50" fill="none" stroke="#7a7a7a" stroke-width="1"/>
<text x="471.50" y="374.60" font-size="10" fill="#2b2b2b" text-anchor="middle" textLength="28.00" lengthAdjust="spacingAndGlyphs">0.002</text>
<path d="M492.90,367.70 V364.70 H542.60 V367.70" fill="none" stroke="#7a7a7a" stroke-width="1"/>
<text x="520.40" y="362.50" font-size="10" fill="#2b2b2b" text-anchor="middle" textLength="27.60" lengthAdjust="spacingAndGlyphs">0.002</text></svg></body></html>
